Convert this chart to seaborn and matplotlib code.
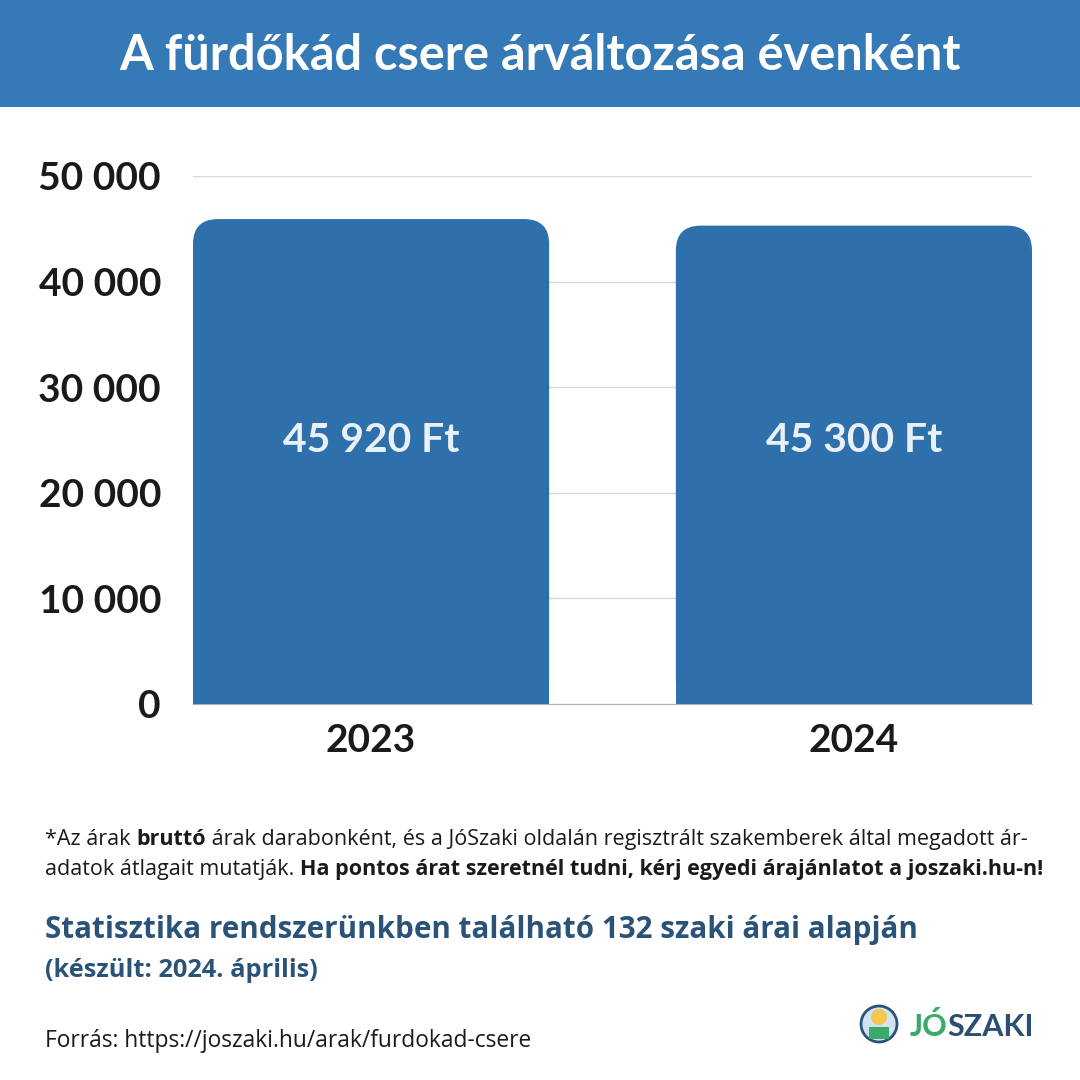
import matplotlib
matplotlib.use("Agg")
import matplotlib.pyplot as plt
from matplotlib.patches import Rectangle, FancyBboxPatch, Circle
from matplotlib.ticker import FuncFormatter
import matplotlib.transforms as mtransforms
import seaborn as sns
import pandas as pd

years = ["2023", "2024"]
prices = [45920, 45300]
y_ticks = [0, 10000, 20000, 30000, 40000, 50000]

title = "A fürdőkád csere árváltozása évenként"
note_line1 = [("*Az árak ", "normal"), ("bruttó", "bold"),
              (" árak darabonként, és a JóSzaki oldalán regisztrált szakemberek által megadott ár-", "normal")]
note_line2 = [("adatok átlagait mutatják. ", "normal"),
              ("Ha pontos árat szeretnél tudni, kérj egyedi árajánlatot a joszaki.hu-n!", "bold")]
stat_text = "Statisztika rendszerünkben található 132 szaki árai alapján"
date_text = "(készült: 2024. április)"
source_text = "Forrás: https://joszaki.hu/arak/furdokad-csere"

BLUE_HEAD = "#3579b6"
BLUE_BAR = "#2e70ab"
DARK_BLUE = "#2b5378"
OPEN = ["Open Sans", "DejaVu Sans"]

sns.set_style("white")
plt.rcParams["font.family"] = ["Lato", "DejaVu Sans"]

df = pd.DataFrame({"year": years, "price": prices})

fig = plt.figure(figsize=(10.8, 10.8), dpi=100)
renderer = fig.canvas.get_renderer()


def fit(t, target_px):
    # scale the font so that the text is as wide as in the reference
    w = t.get_window_extent(renderer).width
    t.set_fontsize(t.get_fontsize() * target_px / w)


fig.patches.append(Rectangle((0, 1 - 107 / 1080), 1, 107 / 1080, transform=fig.transFigure,
                             facecolor=BLUE_HEAD, edgecolor="none", zorder=0))
tt = fig.text(0.5, 1 - 55 / 1080, title, color="white", fontsize=35, fontweight="bold",
              ha="center", va="center")
fit(tt, 842)

ax = fig.add_axes([193 / 1080, 1 - 704 / 1080, 839 / 1080, (704 - 176) / 1080])
bar_w = 357 / 484
sns.barplot(data=df, x="year", y="price", color=BLUE_BAR, saturation=1, width=bar_w, ax=ax, zorder=3)
ax.set_xlim(-bar_w / 2, 1 + bar_w / 2)
ax.set_ylim(0, 50000)

# rounded tops
rx = 25 / 484
ry = 25 * 10000 / 105.6
for p in list(ax.patches):
    x0, w, h = p.get_x(), p.get_width(), p.get_height()
    p.set_height(h - ry)
    p.set_edgecolor("none")
    ax.add_patch(FancyBboxPatch((x0, 0), w, h, boxstyle=f"round,pad=0,rounding_size={rx}",
                                mutation_aspect=ry / rx, facecolor=BLUE_BAR, edgecolor="none", zorder=3))

trans = mtransforms.blended_transform_factory(ax.transData, ax.transAxes)
for i, v in enumerate(prices):
    t = ax.text(i, 0.5, f"{v:,}".replace(",", " ") + " Ft", color="#eaf0f7", fontsize=29,
                fontweight="bold", ha="center", va="center", zorder=4, transform=trans)
    fit(t, 177)

ax.set_yticks(y_ticks)
ax.yaxis.set_major_formatter(FuncFormatter(lambda v, _: f"{int(v):,}".replace(",", " ")))
ax.grid(axis="y", color="#d9d9d9", linewidth=1, zorder=0)
ax.set_xlabel("")
ax.set_ylabel("")
for s in ["top", "right", "left"]:
    ax.spines[s].set_visible(False)
ax.spines["bottom"].set_color("#b0b0b0")
ax.tick_params(axis="y", length=0, pad=23, labelsize=28, labelcolor="#1a1a1a")
ax.tick_params(axis="x", length=0, pad=14, labelsize=28, labelcolor="#1a1a1a")
for lab in ax.get_yticklabels() + ax.get_xticklabels():
    lab.set_fontweight("bold")

# footer overlay, data units = pixels from the top left corner
ov = fig.add_axes([0, 0, 1, 1], facecolor="none")
ov.set_axis_off()
ov.set_xlim(0, 1080)
ov.set_ylim(1080, 0)


def rich_line(x, y, parts, size, color):
    cur = x
    for txt, weight in parts:
        t = ov.text(cur, y, txt, fontsize=size, fontweight=weight, color=color, family=OPEN,
                    va="baseline", ha="left")
        cur += t.get_window_extent(renderer).width
    return cur - x


# find the size that makes the first note line span the full width
probe = ov.text(0, 0, "".join(s for s, _ in note_line1), fontsize=15, family=OPEN)
w_probe = probe.get_window_extent(renderer).width
probe.remove()
note_size = 15 * 975 / w_probe
rich_line(45, 845, note_line1, note_size, "#1a1a1a")
rich_line(45, 875, note_line2, note_size, "#1a1a1a")

st = ov.text(45, 938, stat_text, fontsize=20, fontweight="bold", color=DARK_BLUE, va="baseline",
             family=OPEN)
fit(st, 873)
dt = ov.text(45, 977, date_text, fontsize=16, fontweight="bold", color=DARK_BLUE, va="baseline",
             family=OPEN)
fit(dt, 273)
src = ov.text(45, 1047, source_text, fontsize=15, color="#1a1a1a", va="baseline", family=OPEN)
fit(src, 486)

# logo
ov.add_patch(Circle((879, 1024), 18, facecolor="#cfe3f3", edgecolor="#2b5378", linewidth=2))
ov.add_patch(Circle((879, 1017), 8, facecolor="#f2c94c", edgecolor="none"))
ov.add_patch(Rectangle((869, 1027), 20, 12, facecolor="#3aaa6a", edgecolor="none"))
jo = ov.text(910, 1036, "JÓ", fontsize=22, fontweight="bold", color="#3aaa6a", va="baseline")
jw = jo.get_window_extent(renderer).width
ov.text(910 + jw, 1036, "SZAKI", fontsize=22, fontweight="bold", color="#2b4f73", va="baseline")

fig.savefig("out.png", dpi=100)
